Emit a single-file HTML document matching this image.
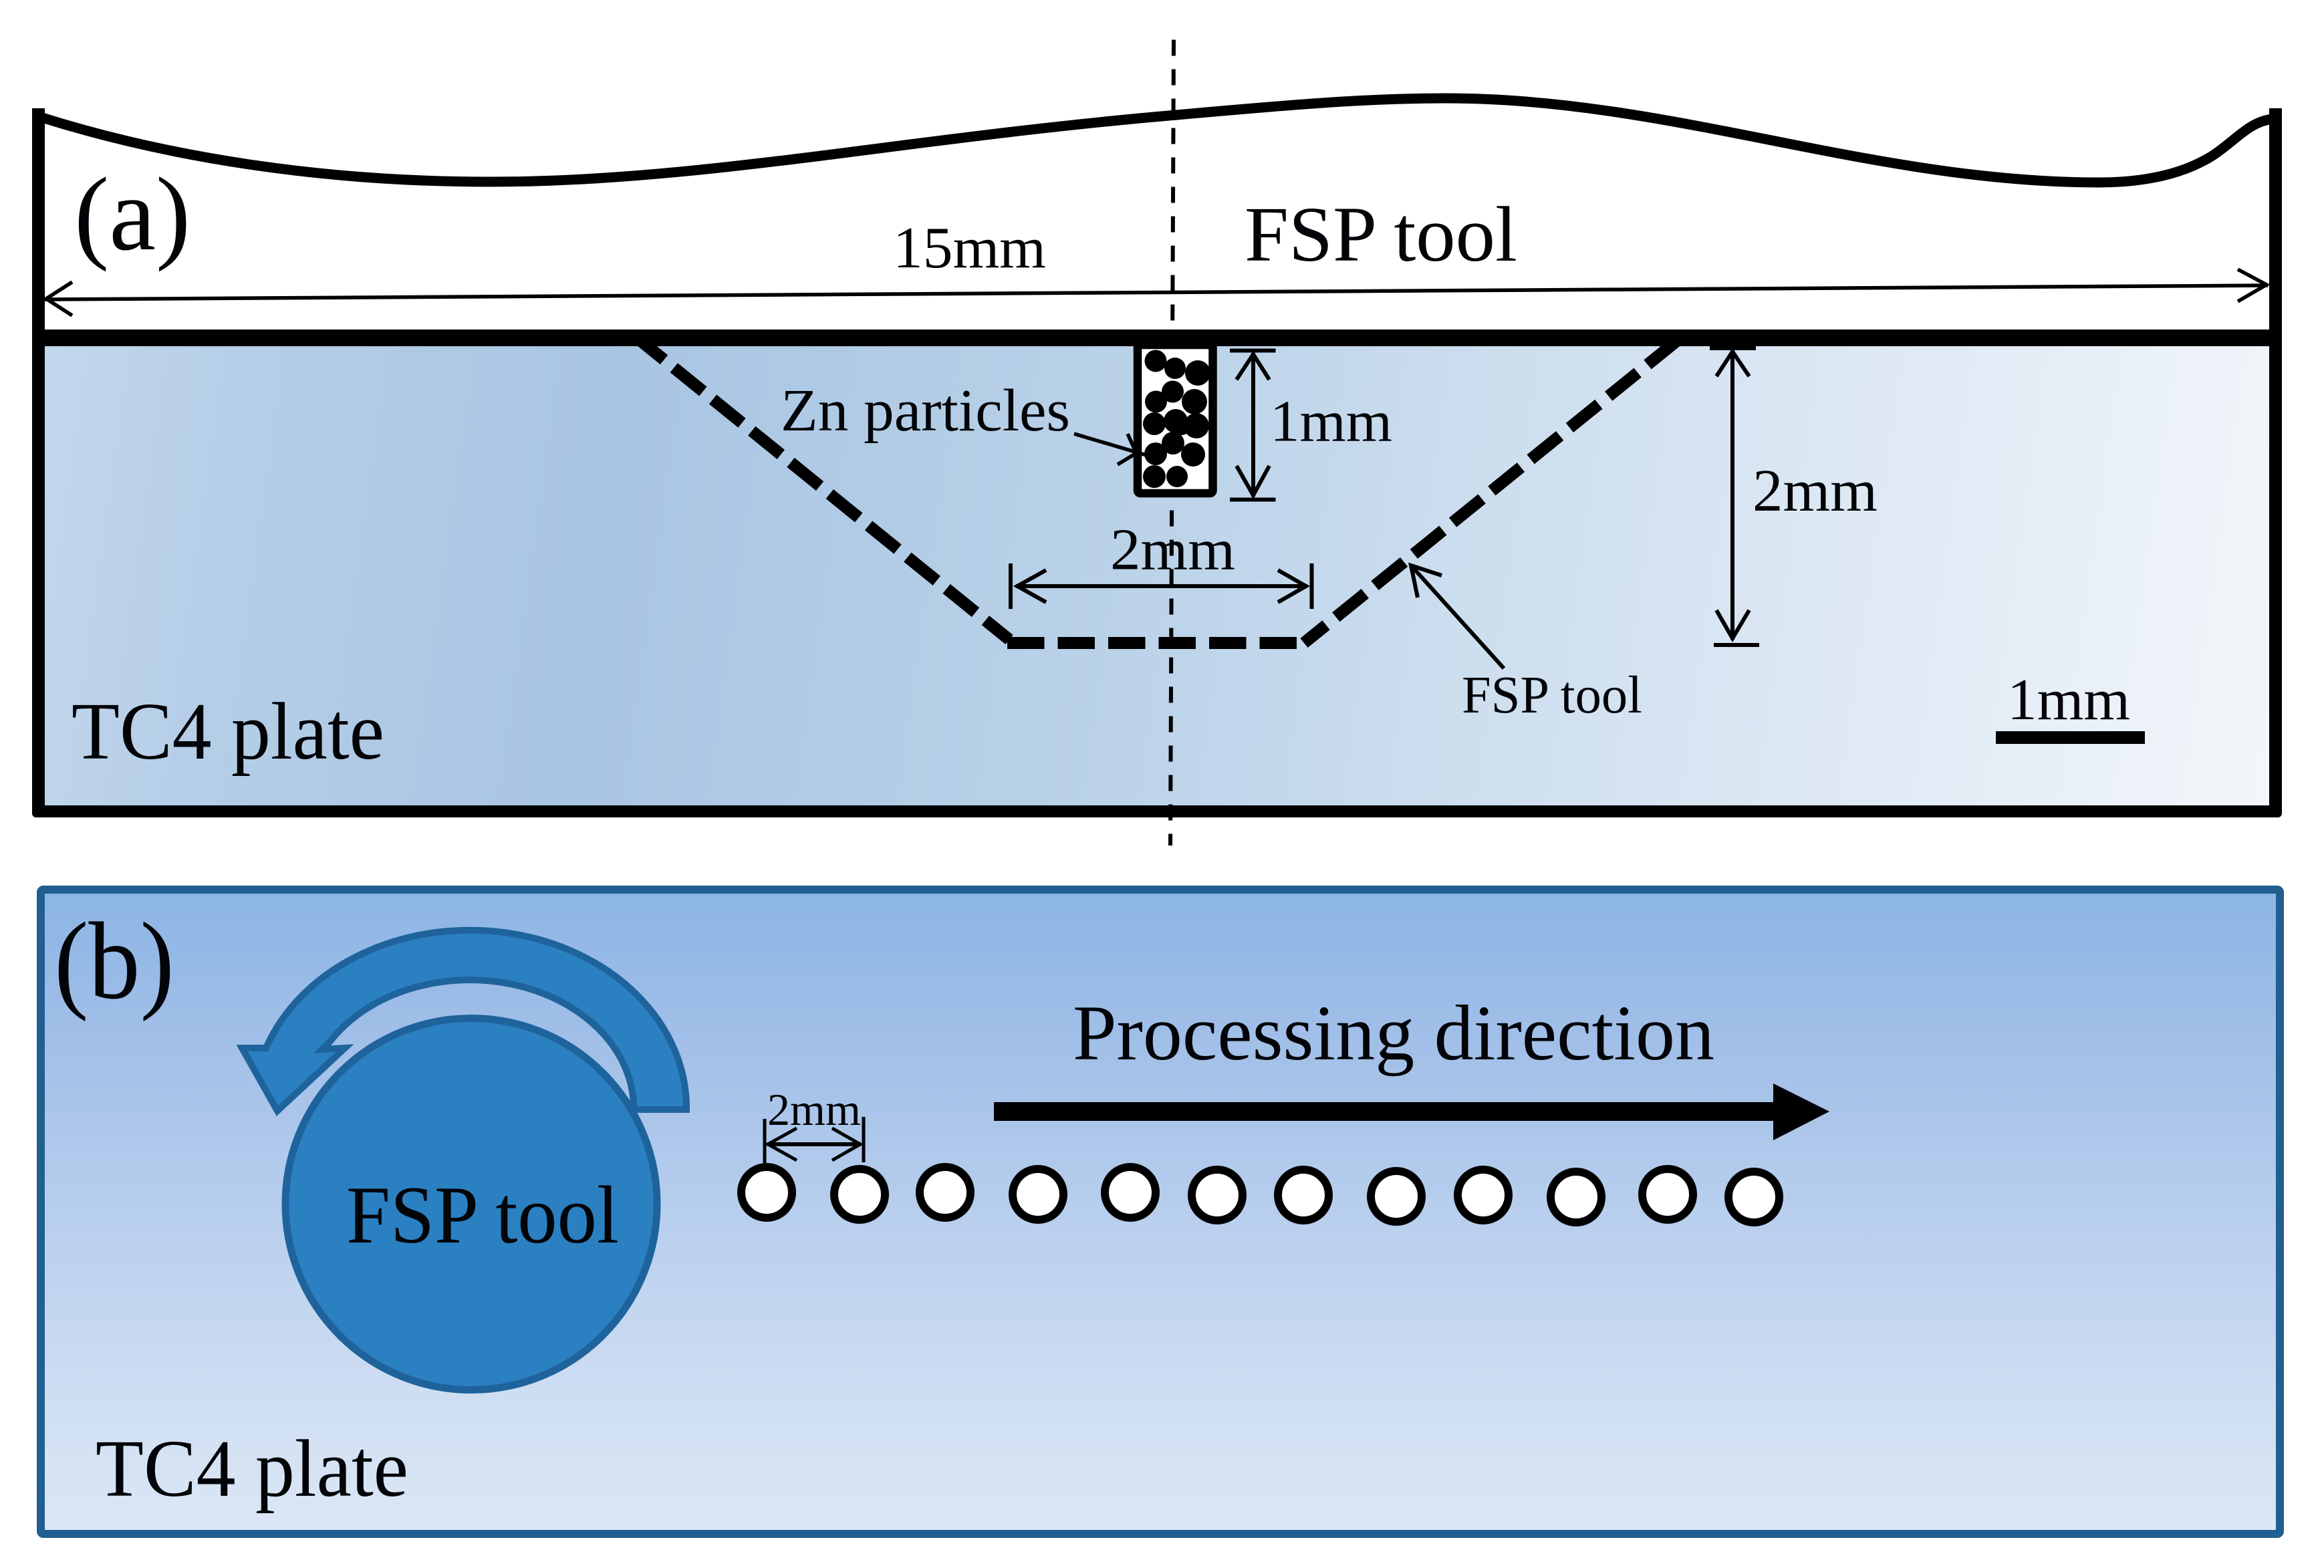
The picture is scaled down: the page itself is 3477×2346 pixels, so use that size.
<!DOCTYPE html>
<html><head><meta charset="utf-8"><style>
html,body{margin:0;padding:0;background:#fff}
svg{display:block}
text{font-family:"Liberation Serif",serif;fill:#020408}
</style></head><body>
<svg width="3477" height="2346" viewBox="0 0 3477 2346" xmlns="http://www.w3.org/2000/svg">
<defs>
<linearGradient id="ga" gradientUnits="userSpaceOnUse" x1="67" y1="650" x2="3395" y2="1120">
<stop offset="0" stop-color="#c2d7eb"/><stop offset=".07" stop-color="#b7cfe8"/><stop offset=".25" stop-color="#a8c5e2"/><stop offset=".5" stop-color="#bcd3e9"/><stop offset=".6" stop-color="#c8dbed"/><stop offset=".75" stop-color="#d8e5f2"/><stop offset=".9" stop-color="#e7eff7"/><stop offset="1" stop-color="#f3f6fa"/>
</linearGradient>
<linearGradient id="gb" gradientUnits="userSpaceOnUse" x1="0" y1="1337" x2="0" y2="2288">
<stop offset="0" stop-color="#8cb5e5"/><stop offset=".25" stop-color="#a3c0e8"/><stop offset=".57" stop-color="#bdd2ef"/><stop offset=".8" stop-color="#cfdef2"/><stop offset="1" stop-color="#dbe7f6"/>
</linearGradient>
</defs>
<rect width="3477" height="2346" fill="#fff"/>

<!-- panel a -->
<path d="M60,175 C250,235 480,272 733,272 C1050,272 1350,207 1760,172 C1950,155 2050,147 2165,147 C2500,147 2800,273 3140,273 C3215,273 3270,258 3310,233 C3345,210 3365,182 3400,178" fill="none" stroke="#000" stroke-width="15"/>
<rect x="48" y="162" width="19" height="340" fill="#000"/>
<rect x="3395" y="162" width="19" height="340" fill="#000"/>
<rect x="48" y="493" width="3366" height="730" rx="6" fill="#000"/>
<rect x="67" y="518" width="3328" height="687" fill="url(#ga)"/>

<g fill="none" stroke="#000" stroke-width="5.5">
<path d="M67,448 L3393,427" stroke-width="5.5"/>
<path d="M108,422 L69,447 L108,472"/>
<path d="M3348,403 L3391,426 L3348,451"/>
</g>

<!-- centre dashed line -->
<line x1="1756" y1="59.5" x2="1751" y2="1265" stroke="#000" stroke-width="6" stroke-dasharray="24 20"/>

<!-- trapezoid dashes -->
<g fill="none" stroke="#000" stroke-width="18">
<line x1="950" y1="503" x2="1510" y2="957" stroke-dasharray="56 19"/>
<line x1="1507" y1="962" x2="1941" y2="962" stroke-dasharray="55.5 20"/>
<line x1="1951" y1="962" x2="2515" y2="505" stroke-dasharray="56 19" stroke-dashoffset="13.5"/>
</g>
<rect x="48" y="493" width="3366" height="25" fill="#000"/>

<!-- particle box -->
<rect x="1702" y="516" width="112.5" height="222" rx="4" fill="#fff" stroke="#000" stroke-width="12.5"/>
<g fill="#000">
<circle cx="1729" cy="540" r="16.5"/><circle cx="1758" cy="551" r="16"/><circle cx="1792" cy="558" r="19"/>
<circle cx="1754.5" cy="586" r="16.5"/><circle cx="1729.5" cy="601" r="16.5"/><circle cx="1787" cy="601" r="19"/>
<circle cx="1727" cy="634" r="17"/><circle cx="1759" cy="630" r="18"/><circle cx="1790" cy="637" r="19"/>
<circle cx="1768" cy="638" r="13"/>
<circle cx="1755" cy="663" r="17"/><circle cx="1729" cy="679" r="17"/><circle cx="1785" cy="680" r="18"/>
<circle cx="1727" cy="713" r="17"/><circle cx="1761" cy="713" r="16"/>
</g>

<!-- Zn arrow -->
<g fill="none" stroke="#000" stroke-width="5.5">
<path d="M1607,649 L1715,681"/>
<path d="M1687,649 L1700,678 L1672,695"/>
</g>

<!-- 1mm dim -->
<g fill="none" stroke="#000" stroke-width="6">
<path d="M1840,524.5 H1908.5 M1840,747.5 H1908.5"/>
<path d="M1875,528 V743"/>
<path d="M1850,568 L1875,530 L1899,568"/>
<path d="M1850,697 L1875,741 L1899,697"/>
</g>
<!-- 2mm horizontal dim -->
<g fill="none" stroke="#000" stroke-width="6">
<path d="M1512,843 V911 M1962.5,843 V911"/>
<path d="M1520,877 H1956"/>
<path d="M1565,853 L1522,877 L1565,901"/>
<path d="M1912,853 L1954,877 L1912,901"/>
</g>
<!-- 2mm vertical dim -->
<rect x="2558" y="515" width="69" height="9" fill="#000"/>
<rect x="2564" y="962" width="68" height="6" fill="#000"/>
<g fill="none" stroke="#000" stroke-width="6">
<path d="M2592,524 V957"/>
<path d="M2568,563 L2592,526 L2617,563"/>
<path d="M2568,913 L2592,955 L2617,913"/>
</g>
<!-- FSP tool pointer -->
<g fill="none" stroke="#000" stroke-width="6">
<path d="M2250,1000 L2111,846"/>
<path d="M2157,861 L2111,846 L2121,894"/>
</g>
<!-- scale bar -->
<rect x="2986" y="1094" width="223" height="19" fill="#000"/>

<text x="111" y="373" font-size="157">(a)</text>
<text x="1336" y="400" font-size="88" textLength="229" lengthAdjust="spacingAndGlyphs">15mm</text>
<text x="1862" y="390" font-size="118" textLength="408" lengthAdjust="spacingAndGlyphs">FSP tool</text>
<text x="1168" y="644" font-size="90" textLength="433" lengthAdjust="spacingAndGlyphs">Zn particles</text>
<text x="1900" y="659.5" font-size="88" textLength="183" lengthAdjust="spacingAndGlyphs">1mm</text>
<text x="1661" y="851.5" font-size="88" textLength="187" lengthAdjust="spacingAndGlyphs">2mm</text>
<text x="2622" y="764" font-size="90" textLength="187" lengthAdjust="spacingAndGlyphs">2mm</text>
<text x="2187" y="1066" font-size="79" textLength="270" lengthAdjust="spacingAndGlyphs">FSP tool</text>
<text x="3003" y="1076" font-size="88" textLength="184" lengthAdjust="spacingAndGlyphs">1mm</text>
<text x="107" y="1135" font-size="122" textLength="468" lengthAdjust="spacingAndGlyphs">TC4 plate</text>

<!-- panel b -->
<rect x="61" y="1331" width="3350" height="964" rx="4" fill="url(#gb)" stroke="#205f8f" stroke-width="12"/>

<path d="M1027,1660 A324,266 0 0 0 398,1568 L362,1568 L415,1662 L516,1568 L482,1570 L494,1558 A245,192 0 0 1 948,1660 Z" fill="#2b80c1" stroke="#1f639c" stroke-width="10" stroke-linejoin="miter"/>
<circle cx="705" cy="1801.5" r="278" fill="#2b80c1" stroke="#1f639c" stroke-width="11"/>

<text x="81" y="1493" font-size="165" textLength="180" lengthAdjust="spacingAndGlyphs">(b)</text>
<text x="518" y="1859" font-size="123" textLength="408" lengthAdjust="spacingAndGlyphs">FSP tool</text>
<text x="1605" y="1585" font-size="118" textLength="960" lengthAdjust="spacingAndGlyphs">Processing direction</text>
<text x="143" y="2238" font-size="122" textLength="468" lengthAdjust="spacingAndGlyphs">TC4 plate</text>

<!-- big arrow -->
<path d="M1487,1649 H2653 V1621 L2737,1663 L2653,1706 V1677 H1487 Z" fill="#000"/>

<!-- small dim -->
<g fill="none" stroke="#000" stroke-width="5">
<path d="M1144,1674 V1740 M1292,1671 V1739"/>
<path d="M1148,1712 H1288" stroke-width="6"/>
<path d="M1192,1688 L1149,1712 L1192,1736"/>
<path d="M1245,1688 L1287,1712 L1245,1736"/>
</g>
<text x="1148" y="1683" font-size="68" textLength="140" lengthAdjust="spacingAndGlyphs">2mm</text>

<!-- holes -->
<g fill="#fff" stroke="#000" stroke-width="12">
<circle cx="1147" cy="1784" r="38"/><circle cx="1286" cy="1787" r="38"/><circle cx="1414" cy="1784" r="38"/>
<circle cx="1553" cy="1787" r="38"/><circle cx="1691" cy="1784" r="38"/><circle cx="1821" cy="1788" r="38"/>
<circle cx="1950" cy="1788" r="38"/><circle cx="2089" cy="1790" r="38"/><circle cx="2219" cy="1788" r="38"/>
<circle cx="2358" cy="1791" r="38"/><circle cx="2495" cy="1787" r="38"/><circle cx="2624" cy="1791" r="38"/>
</g>
</svg>
</body></html>
